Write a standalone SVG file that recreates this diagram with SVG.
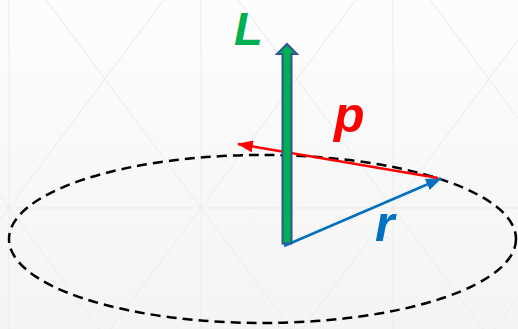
<svg xmlns="http://www.w3.org/2000/svg" width="518" height="329" viewBox="0 0 518 329">
<defs>
<linearGradient id="bg" x1="0" y1="0" x2="0" y2="1">
<stop offset="0" stop-color="#FDFDFD"/>
<stop offset="1" stop-color="#F4F4F4"/>
</linearGradient>
<marker id="ahBlue" viewBox="0 0 16 12" refX="15" refY="6" markerWidth="16" markerHeight="12" markerUnits="userSpaceOnUse" orient="auto">
<path d="M0,0 L16,6 L0,12 Z" fill="#0070C0"/>
</marker>
<marker id="ahRed" viewBox="0 0 16 12" refX="15" refY="6" markerWidth="16" markerHeight="12" markerUnits="userSpaceOnUse" orient="auto">
<path d="M0,0 L16,6 L0,12 Z" fill="#FF0000"/>
</marker>
</defs>
<style>
.grid{stroke:#EBEBEB;stroke-width:1;fill:none}
.lbl{font-family:"Liberation Sans",Arial,sans-serif;font-weight:bold;font-style:italic}
</style>
<rect width="518" height="329" fill="url(#bg)"/>
<g id="background-grid" class="grid">
<line x1="9" y1="0" x2="9" y2="329"/>
<line x1="201" y1="0" x2="201" y2="329"/>
<line x1="393" y1="0" x2="393" y2="329"/>
<line x1="0" y1="208" x2="518" y2="208"/>
<line x1="-145.8" y1="0" x2="99" y2="329"/>
<line x1="46.2" y1="0" x2="291" y2="329"/>
<line x1="238.2" y1="0" x2="483" y2="329"/>
<line x1="430.2" y1="0" x2="675" y2="329"/>
<line x1="163.8" y1="0" x2="-81.8" y2="329"/>
<line x1="355.8" y1="0" x2="110.2" y2="329"/>
<line x1="547.8" y1="0" x2="302.2" y2="329"/>
<line x1="739.8" y1="0" x2="494.2" y2="329"/>
</g>
<g id="orbit">
<ellipse cx="262.5" cy="239" rx="253.5" ry="84" fill="none" stroke="#000" stroke-width="2.5" stroke-dasharray="10,6"/>
</g>
<g id="connectors">
<line id="vec-r" x1="284" y1="246" x2="441" y2="178.5" stroke="#0070C0" stroke-width="2.5" marker-end="url(#ahBlue)"/>
<line id="vec-p" x1="438" y1="178" x2="238" y2="144" stroke="#FF0000" stroke-width="2.5" marker-end="url(#ahRed)"/>
</g>
<g id="vec-L">
<polygon points="282.5,243.5 282.5,54 277,54 287,44 297,54 291.5,54 291.5,243.5" fill="#00B050" stroke="#2F5597" stroke-width="2" stroke-linejoin="miter"/>
</g>
<g id="label-L"><text class="lbl" x="234" y="45" font-size="47" fill="#00B050">L</text></g>
<g id="label-p"><text class="lbl" x="334" y="132" font-size="50" fill="#FF0000">p</text></g>
<g id="label-r"><text class="lbl" x="375" y="241" font-size="50" fill="#0070C0">r</text></g>
</svg>
